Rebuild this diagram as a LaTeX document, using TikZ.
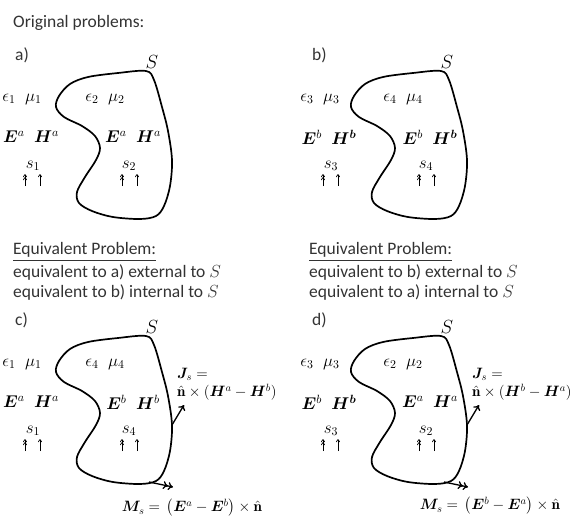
\RequirePackage{fix-cm}
\documentclass[tikz,border=0pt]{standalone}
\usepackage{amsmath}
\usepackage{bm}
\usepackage{fontspec}
\setsansfont{Carlito}
\usepackage{tikz}
\usetikzlibrary{arrows.meta, positioning}

\begin{document}
\begin{tikzpicture}[x=1pt, y=-1pt,
		every node/.style={inner sep=0pt, font=\fontsize{15}{18}\selectfont},
		txt/.style={anchor=west, text=black!80, font=\sffamily\fontsize{17.5}{21}\selectfont},
		mat/.style={font=\fontsize{17}{20}\selectfont},
		surf/.style={font=\fontsize{19}{22}\selectfont},
		blob/.pic={\draw[line width=1.7pt, line join=round] plot[smooth cycle, tension=0.55] coordinates {(146,71) (118,73) (88,77) (70,84) (59,96) (56,107) (64,117) (82,126) (95,136) (100,148) (96,160) (85,177) (77,192) (79,203) (92,211) (113,217) (140,219) (156,216) (164,206) (170,186) (172,160) (168,131) (162,107) (154,80)};},
		src/.style={line width=0.7pt, -{To[length=3pt,width=4pt]}},
		srctwo/.style={line width=0.7pt, -{To[length=3pt,width=4pt] To[length=3pt,width=4pt]}},
		jcurr/.style={line width=1.3pt, -{To[length=5pt,width=8pt]}},
		mcurr/.style={line width=1.3pt, -{To[length=5pt,width=8pt] To[length=5pt,width=8pt]}}]
		\pgfmathsetmacro{\panelx}{295}
		\pgfmathsetmacro{\panely}{265}
		\useasboundingbox (0,0) rectangle (571,530);
		
		\node[txt] (orig) at (13,23) {Original problems:};
		
		%% a)
		\begin{scope}
		\pic {blob};
		\node[txt] (la) at (15,55) {a)};
		\node[surf] (Sa) at (152,62) {$S$};
		\node[mat] (epsa) at (22,99) {$\epsilon_1\;\;\mu_1$};
		\node[mat] (epsina) at (105,99) {$\epsilon_2\;\;\mu_2$};
		\node[mat] (flda) at (31,137) {$\bm{E}^a\;\;\bm{H}^a$};
		\node[mat] (fldina) at (133,137) {$\bm{E}^a\;\;\bm{H}^a$};
		\node[mat] (sa) at (33,166) {$s_1$};
		\node[mat] (sina) at (129,166) {$s_2$};
		\draw[srctwo] ([xshift=-8pt,yshift=-15pt]sa.south) -- ++(0,-12);
		\draw[src] ([xshift=7pt,yshift=-15pt]sa.south) -- ++(0,-12);
		\draw[srctwo] ([xshift=-7pt,yshift=-15pt]sina.south) -- ++(0,-12);
		\draw[src] ([xshift=8pt,yshift=-15pt]sina.south) -- ++(0,-12);
		\end{scope}
		
		%% b)
		\begin{scope}[shift={(\panelx,0)}]
		\pic {blob};
		\node[txt] (lb) at (17,55) {b)};
		\node[surf] (Sb) at (152,62) {$S$};
		\node[mat] (epsb) at (25,99) {$\epsilon_3\;\;\mu_3$};
		\node[mat] (epsinb) at (108,99) {$\epsilon_4\;\;\mu_4$};
		\node[mat] (fldb) at (34,137) {$\bm{E}^b\;\;\bm{H}^{\bm{b}}$};
		\node[mat] (fldinb) at (135,137) {$\bm{E}^b\;\;\bm{H}^{\bm{b}}$};
		\node[mat] (sb) at (36,166) {$s_3$};
		\node[mat] (sinb) at (131,166) {$s_4$};
		\draw[srctwo] ([xshift=-8pt,yshift=-15pt]sb.south) -- ++(0,-12);
		\draw[src] ([xshift=7pt,yshift=-15pt]sb.south) -- ++(0,-12);
		\draw[srctwo] ([xshift=-7pt,yshift=-15pt]sinb.south) -- ++(0,-12);
		\draw[src] ([xshift=8pt,yshift=-15pt]sinb.south) -- ++(0,-12);
		\end{scope}
		
		\node[txt] (eqc) at (13,252) {\underline{Equivalent Problem:}};
		\node[txt] (eqcone) at (13,273) {equivalent to a) external to $S$};
		\node[txt] (eqctwo) at (13,293) {equivalent to b) internal to $S$};
		\node[txt] (eqd) at (309,252) {\underline{Equivalent Problem:}};
		\node[txt] (eqdone) at (309,273) {equivalent to b) external to $S$};
		\node[txt] (eqdtwo) at (309,293) {equivalent to a) internal to $S$};
		
		%% c)
		\begin{scope}[shift={(0,\panely)}]
		\pic {blob};
		\node[txt] (lc) at (15,55) {c)};
		\node[surf] (Sc) at (152,62) {$S$};
		\node[mat] (epsc) at (22,99) {$\epsilon_1\;\;\mu_1$};
		\node[mat] (epsinc) at (105,99) {$\epsilon_4\;\;\mu_4$};
		\node[mat] (fldc) at (31,137) {$\bm{E}^a\;\;\bm{H}^a$};
		\node[mat] (fldinc) at (133,137) {$\bm{E}^b\;\;\bm{H}^b$};
		\node[mat] (sc) at (33,166) {$s_1$};
		\node[mat] (sinc) at (129,166) {$s_4$};
		\draw[srctwo] ([xshift=-8pt,yshift=-15pt]sc.south) -- ++(0,-12);
		\draw[src] ([xshift=7pt,yshift=-15pt]sc.south) -- ++(0,-12);
		\draw[srctwo] ([xshift=-7pt,yshift=-15pt]sinc.south) -- ++(0,-12);
		\draw[src] ([xshift=8pt,yshift=-15pt]sinc.south) -- ++(0,-12);
		\node[anchor=west] (jc) at (177,109) {$\bm{J}_s =$};
		\node[anchor=west] (jcx) at (177,127) {$\hat{\mathbf{n}}\times(\bm{H}^a-\bm{H}^b)$};
		\coordinate (jcfoot) at (172,160);
		\coordinate (jctip) at (184,140);
		\draw[jcurr] (jcfoot) -- (jctip);
		\node (mc) at (192,243) {$\bm{M}_s=\,\bigl(\bm{E}^a-\bm{E}^b\bigr)\times\hat{\mathbf{n}}$};
		\coordinate (mcfoot) at (149,217);
		\coordinate (mctip) at (173,222);
		\draw[mcurr] (mcfoot) -- (mctip);
		\end{scope}
		
		%% d)
		\begin{scope}[shift={(\panelx,\panely)}]
		\pic {blob};
		\node[txt] (ld) at (17,55) {d)};
		\node[surf] (Sd) at (152,62) {$S$};
		\node[mat] (epsd) at (25,99) {$\epsilon_3\;\;\mu_3$};
		\node[mat] (epsind) at (108,99) {$\epsilon_2\;\;\mu_2$};
		\node[mat] (fldd) at (34,137) {$\bm{E}^b\;\;\bm{H}^{\bm{b}}$};
		\node[mat] (fldind) at (135,137) {$\bm{E}^a\;\;\bm{H}^a$};
		\node[mat] (sd) at (36,166) {$s_3$};
		\node[mat] (sind) at (131,166) {$s_2$};
		\draw[srctwo] ([xshift=-8pt,yshift=-15pt]sd.south) -- ++(0,-12);
		\draw[src] ([xshift=7pt,yshift=-15pt]sd.south) -- ++(0,-12);
		\draw[srctwo] ([xshift=-7pt,yshift=-15pt]sind.south) -- ++(0,-12);
		\draw[src] ([xshift=8pt,yshift=-15pt]sind.south) -- ++(0,-12);
		\node[anchor=west] (jd) at (177,109) {$\bm{J}_s =$};
		\node[anchor=west] (jdx) at (177,127) {$\hat{\mathbf{n}}\times(\bm{H}^b-\bm{H}^a)$};
		\coordinate (jdfoot) at (172,160);
		\coordinate (jdtip) at (184,140);
		\draw[jcurr] (jdfoot) -- (jdtip);
		\node (md) at (195,241) {$\bm{M}_s=\,\bigl(\bm{E}^b-\bm{E}^a\bigr)\times\hat{\mathbf{n}}$};
		\coordinate (mdfoot) at (149,217);
		\coordinate (mdtip) at (173,222);
		\draw[mcurr] (mdfoot) -- (mdtip);
		\end{scope}
\end{tikzpicture}
\end{document}
